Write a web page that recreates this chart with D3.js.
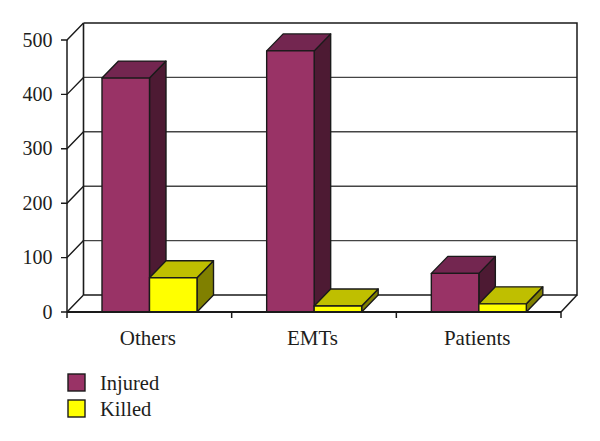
<!DOCTYPE html>
<html><head><meta charset="utf-8">
<script src="https://cdnjs.cloudflare.com/ajax/libs/d3/7.8.5/d3.min.js"></script>
<style>html,body{margin:0;background:#fff}svg{display:block}text{font-family:"Liberation Serif",serif;fill:#1d1d1b}</style>
</head><body><svg id="c" width="600" height="441"></svg>
<script>
const categories=["Others","EMTs","Patients"];
const seriesNames=["Injured","Killed"];
const injured=[430,480,71];
const killed=[63,11,15];
const yTicks=[0,100,200,300,400,500];
const frontFill=["#993366","#ffff00"];
const topFill=["#732650","#bfbf00"];
const sideFill=["#4d1a33","#808000"];
const seriesValues=[injured,killed];

const svg=d3.select("#c");
const dx=16.5,dy=-17,ink="#1a1a1a";
const x=d3.scaleBand().domain(categories).range([67,561]);
const s=d3.scaleBand().domain(seriesNames).range([35,130]);
const y=d3.scaleLinear().domain([0,500]).range([312,40]);
const line=d3.line();
const poly=(pts,fill)=>svg.append("path").attr("d",line(pts)+"Z").attr("fill",fill).attr("stroke",ink).attr("stroke-width",1.4).attr("stroke-linejoin","round");
const seg=(pts,w,c)=>svg.append("path").attr("d",line(pts)).attr("fill","none").attr("stroke",c||ink).attr("stroke-width",w);

// walls, floor, gridlines
yTicks.forEach(t=>{
  const yy=y(t);
  if(t>0&&t<500) seg([[83.5,yy+dy],[577,yy+dy]],1.4,"#444");
  seg([[61,yy],[67,yy],[67+dx,yy+dy]],1.4);
});
seg([[67+dx,y(500)+dy],[577,y(500)+dy],[577,y(0)+dy],[67+dx,y(0)+dy]],1.5);
seg([[67+dx,y(500)+dy],[67+dx,y(0)+dy]],1.6);
seg([[67,y(500)],[67,y(0)]],1.5);
seg([[561,y(0)],[577,y(0)+dy]],1.5);

// bars
categories.forEach((c,i)=>{
  seriesNames.forEach((n,j)=>{
    const v=seriesValues[j][i];
    const x0=x(c)+s(n),x1=x0+s.bandwidth(),y0=y(0),y1=y(v);
    poly([[x1,y0],[x1+dx,y0+dy],[x1+dx,y1+dy],[x1,y1]],sideFill[j]);
    poly([[x0,y1],[x0+dx,y1+dy],[x1+dx,y1+dy],[x1,y1]],topFill[j]);
    poly([[x0,y0],[x0,y1],[x1,y1],[x1,y0]],frontFill[j]);
  });
});

// axis baseline and ticks
seg([[67,y(0)],[561,y(0)]],1.8);
[...categories.map(c=>x(c)),561].forEach(px=>seg([[px,y(0)],[px,318]],1.5));

// labels
svg.selectAll(".yl").data(yTicks).join("text").attr("class","yl")
  .attr("x",52.5).attr("y",d=>y(d)+6.5).attr("text-anchor","end").attr("font-size",20).text(d=>d);
svg.selectAll(".xl").data(categories).join("text").attr("class","xl")
  .attr("x",d=>x(d)+x.bandwidth()/2-1.5).attr("y",345).attr("text-anchor","middle").attr("font-size",21).text(d=>d);

// legend
const ly=d3.scaleBand().domain(seriesNames).range([373,425]);
seriesNames.forEach((n,j)=>{
  svg.append("rect").attr("x",68).attr("y",ly(n)+1).attr("width",17).attr("height",17)
    .attr("fill",frontFill[j]).attr("stroke",ink).attr("stroke-width",1.4);
  svg.append("text").attr("x",100).attr("y",ly(n)+17).attr("font-size",20.5).text(n);
});
</script></body></html>
